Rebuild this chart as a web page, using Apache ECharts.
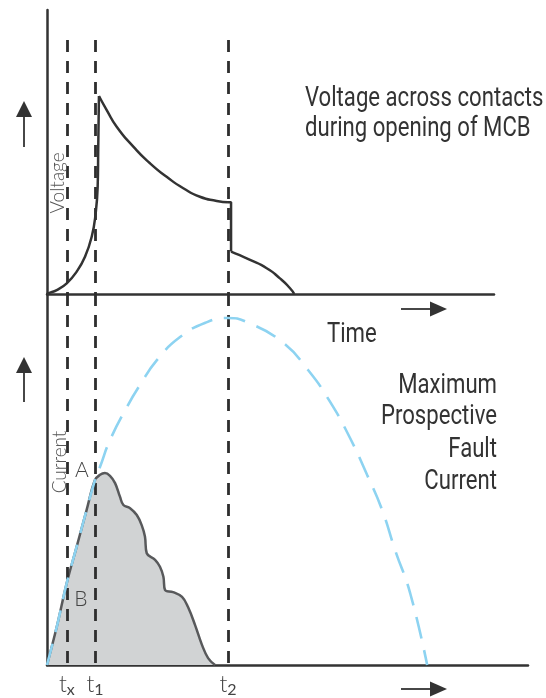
<!DOCTYPE html>
<html>
<head>
<meta charset="utf-8">
<script src="https://cdn.jsdelivr.net/npm/echarts@6/dist/echarts.min.js"></script>
<style>
html,body{margin:0;padding:0;background:#fff;}
#chart{width:546px;height:698px;}
</style>
</head>
<body>
<div id="chart"></div>
<script>
// Time in ms (t2 = 10 ms); voltage in % of peak; current in % of prospective peak
const markerTimes = [1.10, 2.65, 10.0];
const markerSubs = ['x', '1', '2'];

const voltageRise = [[0,0],[0.07,0.35],[0.54,2.0],[1.09,5.4],[1.64,11.3],[2.10,18.8],[2.47,28.9],[2.69,40.8],[2.80,54.2],[2.83,72.7],[2.87,100]];
const voltageDecay = [[2.87,100],[3.30,92.9],[3.85,84.5],[4.77,74.4],[5.69,66.0],[6.61,59.2],[7.53,53.4],[8.45,49.1],[9.38,47.0],[10.0,46.3]];
const voltageStep = [[10.0,46.3],[10.17,46.3],[10.17,21.4]];
const voltageTail = [[10.17,21.4],[11.22,17.2],[12.14,13.0],[12.87,7.9],[13.43,2.9],[13.66,0]];

const limitedCurrent = [[0,0],[0.54,11.0],[1.09,23.6],[1.64,34.1],[2.19,44.7],[2.65,53.3],[2.93,54.8],[3.20,55.3],[3.48,54.5],[3.76,52.4],[4.03,48.5],[4.22,46.1],
  [4.59,45.2],[4.96,43.2],[5.23,40.3],[5.41,37.0],[5.51,32.2],
  [5.97,30.3],[6.24,28.3],[6.43,25.4],[6.52,21.6],
  [6.96,21.0],[7.46,19.6],[7.79,16.7],[8.18,11.5],[8.56,5.8],[8.90,2.0],[9.28,0]];

const prospectiveCurrent = [[0,0],[0.54,11.0],[1.09,23.6],[1.64,34.1],[2.19,44.7],[2.65,53.3],[2.93,57.1],[3.48,64.8],[4.42,74.4],[5.14,80.7],[6.08,87.9],[7.35,94.5],[8.84,98.8],[10.0,100],
  [11.05,98.8],[12.98,93.1],[14.42,85.0],[15.64,75.8],[16.74,65.4],[17.68,54.8],[18.51,44.7],[19.23,33.1],[20.06,20.7],[21.0,0]];

const voltageAxis = {min: 0, max: 143.4};
const currentAxis = {min: 0, max: 106.9};
const timeAxisTop = {min: 0, max: 24.7};
const timeAxisBottom = {min: 0, max: 26.57};
const dashTopVoltage = 128.3;

const DARK = '#333333';
const TXT = '#333333';
const NARROW = "Roboto, 'Liberation Sans', sans-serif";
const LIGHT = "Lato, 'Open Sans', sans-serif";
const CONDENSE = 0.82;

const chart = echarts.init(document.getElementById('chart'), null, {renderer: 'canvas'});

const axisLine = {show: true, onZero: false, lineStyle: {color: DARK, width: 2.5}};
const plainAxis = (extra) => Object.assign({
  type: 'value', axisLine: axisLine, axisTick: {show: false}, axisLabel: {show: false}, splitLine: {show: false}
}, extra);

function vLines(topVal) {
  return markerTimes.map(t => [{coord: [t, topVal]}, {coord: [t, 0]}]);
}
const markLineStyle = {type: [12, 9], color: '#2e2e2e', width: 2.8};

function narrowText(text, x, y, align) {
  return {type: 'text', x: x, y: y, scaleX: CONDENSE, silent: true, z: 100,
    style: {text: text, x: 0, y: 0, textAlign: align, textVerticalAlign: 'middle', font: '27px ' + NARROW, fill: TXT}};
}

const option = {
  animation: false,
  backgroundColor: '#fff',
  grid: [
    {left: 47, top: 10, width: 447, height: 284},
    {left: 47, top: 294, width: 481, height: 371}
  ],
  xAxis: [
    plainAxis(Object.assign({gridIndex: 0}, timeAxisTop)),
    plainAxis(Object.assign({gridIndex: 1}, timeAxisBottom, {
      axisLabel: {
        show: true,
        customValues: markerTimes,
        margin: 8,
        formatter: function (v) {
          const i = markerTimes.indexOf(v);
          return i < 0 ? '' : '{b|t}{s|' + markerSubs[i] + '}';
        },
        fontFamily: LIGHT, fontWeight: 300, fontSize: 22, color: '#444', lineHeight: 24,
        rich: {
          b: {fontFamily: LIGHT, fontWeight: 300, fontSize: 23, color: '#444', verticalAlign: 'top', lineHeight: 24},
          s: {fontFamily: LIGHT, fontWeight: 400, fontSize: 16, color: '#444', verticalAlign: 'bottom', lineHeight: 25}
        }
      }
    }))
  ],
  yAxis: [
    plainAxis(Object.assign({gridIndex: 0}, voltageAxis)),
    plainAxis(Object.assign({gridIndex: 1}, currentAxis))
  ],
  series: [
    {type: 'line', xAxisIndex: 0, yAxisIndex: 0, data: [], silent: true, z: 2,
      markLine: {silent: true, symbol: ['none', 'none'], label: {show: false}, lineStyle: markLineStyle, data: vLines(dashTopVoltage)}},
    {type: 'line', xAxisIndex: 1, yAxisIndex: 1, data: [], silent: true, z: 4,
      markLine: {silent: true, symbol: ['none', 'none'], label: {show: false}, lineStyle: markLineStyle, data: vLines(currentAxis.max)}},
    {name: 'rise', type: 'line', xAxisIndex: 0, yAxisIndex: 0, data: voltageRise, smooth: 0.5, showSymbol: false, z: 5,
      lineStyle: {color: DARK, width: 2.5}},
    {name: 'decay', type: 'line', xAxisIndex: 0, yAxisIndex: 0, data: voltageDecay, smooth: 0.6, showSymbol: false, z: 5,
      lineStyle: {color: DARK, width: 2.5}},
    {name: 'step', type: 'line', xAxisIndex: 0, yAxisIndex: 0, data: voltageStep, showSymbol: false, z: 5,
      lineStyle: {color: DARK, width: 2.5}},
    {name: 'tail', type: 'line', xAxisIndex: 0, yAxisIndex: 0, data: voltageTail, smooth: 0.6, showSymbol: false, z: 5,
      lineStyle: {color: DARK, width: 2.5}},
    {name: 'limited', type: 'line', xAxisIndex: 1, yAxisIndex: 1, data: limitedCurrent, smooth: 0.4, showSymbol: false, z: 3,
      lineStyle: {color: '#58595b', width: 2.5}, areaStyle: {color: '#d1d3d4', opacity: 1}},
    {name: 'prospective', type: 'line', xAxisIndex: 1, yAxisIndex: 1, data: prospectiveCurrent, smooth: 0.5, showSymbol: false, z: 6,
      lineStyle: {color: '#8dd3f1', width: 2.6, type: [22, 12]}}
  ],
  graphic: [
    // arrows
    {type: 'line', z: 100, shape: {x1: 24, y1: 147, x2: 24, y2: 114}, style: {stroke: DARK, lineWidth: 1.8}, silent: true},
    {type: 'polygon', z: 100, shape: {points: [[24, 101], [16, 117], [32, 117]]}, style: {fill: DARK}, silent: true},
    {type: 'line', z: 100, shape: {x1: 24, y1: 402, x2: 24, y2: 370}, style: {stroke: DARK, lineWidth: 1.8}, silent: true},
    {type: 'polygon', z: 100, shape: {points: [[24, 357], [16, 373], [32, 373]]}, style: {fill: DARK}, silent: true},
    {type: 'line', z: 100, shape: {x1: 401, y1: 309, x2: 433, y2: 309}, style: {stroke: DARK, lineWidth: 1.8}, silent: true},
    {type: 'polygon', z: 100, shape: {points: [[447, 309], [430, 301.5], [430, 316.5]]}, style: {fill: DARK}, silent: true},
    {type: 'line', z: 100, shape: {x1: 401, y1: 689, x2: 433, y2: 689}, style: {stroke: DARK, lineWidth: 1.8}, silent: true},
    {type: 'polygon', z: 100, shape: {points: [[447, 689], [430, 681.5], [430, 696.5]]}, style: {fill: DARK}, silent: true},
    // axis names and point labels
    {type: 'text', x: 58, y: 183, rotation: Math.PI / 2, silent: true, z: 100,
      style: {text: 'Voltage', x: 0, y: 0, textAlign: 'center', textVerticalAlign: 'middle', font: '300 19px ' + LIGHT, fill: '#555'}},
    {type: 'text', x: 60, y: 462, rotation: Math.PI / 2, silent: true, z: 100,
      style: {text: 'Current', x: 0, y: 0, textAlign: 'center', textVerticalAlign: 'middle', font: '300 19px ' + LIGHT, fill: '#555'}},
    {type: 'text', silent: true, z: 100, style: {text: 'A', x: 82, y: 470, textAlign: 'center', textVerticalAlign: 'middle', font: '300 21px ' + LIGHT, fill: '#444'}},
    {type: 'text', silent: true, z: 100, style: {text: 'B', x: 81, y: 599, textAlign: 'center', textVerticalAlign: 'middle', font: '300 21px ' + LIGHT, fill: '#444'}},
    // descriptive texts
    narrowText('Voltage across contacts', 305, 99.5, 'left'),
    narrowText('during opening of MCB', 305, 129.5, 'left'),
    narrowText('Time', 327, 335.5, 'left'),
    narrowText('Maximum', 497, 386.5, 'right'),
    narrowText('Prospective', 497, 417.5, 'right'),
    narrowText('Fault', 497, 450.5, 'right'),
    narrowText('Current', 497, 482.5, 'right')
  ]
};
chart.setOption(option);
</script>
</body>
</html>
